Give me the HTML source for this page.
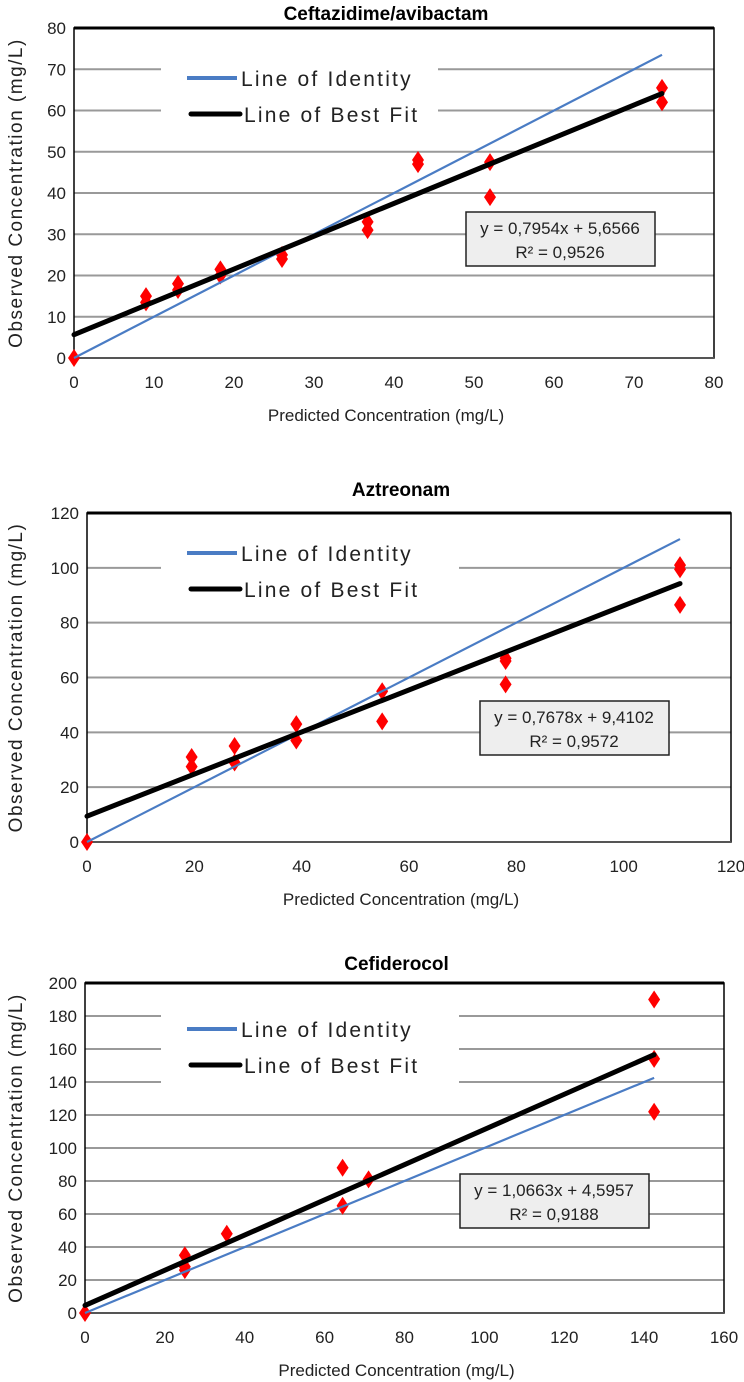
<!DOCTYPE html>
<html><head><meta charset="utf-8"><style>
html,body{margin:0;padding:0;background:#fff;width:744px;height:1382px;overflow:hidden}
svg{display:block}
.tk{font-family:"Liberation Sans",sans-serif;font-size:17px;fill:#222}
.ttl{font-family:"Liberation Sans",sans-serif;font-size:19px;font-weight:bold;fill:#000}
.xt{font-family:"Liberation Sans",sans-serif;font-size:17px;fill:#222}
.yt{font-family:"Liberation Sans",sans-serif;font-size:19px;letter-spacing:1.5px;fill:#222}
.lg{font-family:"Liberation Sans",sans-serif;font-size:21px;letter-spacing:2.2px;fill:#222}
.eq{font-family:"Liberation Sans",sans-serif;font-size:17px;fill:#222}
</style></head><body>
<svg id="root" width="744" height="1382" xmlns="http://www.w3.org/2000/svg"></svg>
<script>
// Chart 1: Ceftazidime/avibactam
const c1PredX = [0,9,9,13,13,18.3,18.3,26,26,36.7,36.7,43,43,52,52,73.5,73.5];
const c1ObsY  = [0,15,13.5,18,16.5,21.5,20,25,24,33,31,48,47,47.5,39,65.5,62];
const c1XTicks = [0,10,20,30,40,50,60,70,80];
const c1YTicks = [0,10,20,30,40,50,60,70,80];
const c1Fit = [0.7954, 5.6566];
const c1MaxX = [73.5];
// Chart 2: Aztreonam
const c2PredX = [0,19.5,19.5,27.5,27.5,39,39,55,55,78,78,78,110.5,110.5,110.5];
const c2ObsY  = [0,31,27.5,35,29,43,37,55,44,67,66,57.5,101,99.5,86.5];
const c2XTicks = [0,20,40,60,80,100,120];
const c2YTicks = [0,20,40,60,80,100,120];
const c2Fit = [0.7678, 9.4102];
const c2MaxX = [110.5];
// Chart 3: Cefiderocol
const c3PredX = [0,25,25,25,35.5,64.5,64.5,71,142.5,142.5,142.5];
const c3ObsY  = [0,35,28,26,48,88,65,81,190,154,122];
const c3XTicks = [0,20,40,60,80,100,120,140,160];
const c3YTicks = [0,20,40,60,80,100,120,140,160,180,200];
const c3Fit = [1.0663, 4.5957];
const c3MaxX = [142.5];

const NS="http://www.w3.org/2000/svg";
const root=document.getElementById('root');
function mk(tag,attrs,parent){const e=document.createElementNS(NS,tag);for(const k in attrs)e.setAttribute(k,attrs[k]);(parent||root).appendChild(e);return e;}

function chart(cfg){
  const g=mk('g',{});
  
  
  const {L,R,T,B}=cfg;
  const xmax=cfg.xt[cfg.xt.length-1], ymax=cfg.yt[cfg.yt.length-1];
  const sx=v=>L+(R-L)*v/xmax, sy=v=>B-(B-T)*v/ymax;
  const t=mk('text',{x:(L+R)/2-8,y:cfg.titleY,'text-anchor':'middle',class:'ttl'},g);t.textContent=cfg.title;
  
  
  cfg.yt.forEach(v=>{
    if(v===0||v===ymax)return;
    const l=mk('line',{x1:L,x2:R,y1:sy(v),y2:sy(v),stroke:'#999','stroke-width':2},g);
    
    
  });
  const lb=mk('rect',{x:cfg.lx,y:cfg.ly,width:cfg.lw,height:cfg.lh,fill:'#fff'},g);
  
  
  cfg.yt.forEach(v=>{
    const e=mk('text',{x:L-8,y:sy(v)+6,'text-anchor':'end',class:'tk'},g);e.textContent=v;
    
    
  });
  cfg.xt.forEach(v=>{
    const e=mk('text',{x:sx(v),y:B+30,'text-anchor':'middle',class:'tk'},g);e.textContent=v;
    
    
  });
  const xt=mk('text',{x:(L+R)/2-8,y:B+63,'text-anchor':'middle',class:'xt'},g);xt.textContent='Predicted Concentration (mg/L)';
  
  
  const yc=(T+B)/2;
  const yt=mk('text',{x:22,y:yc,'text-anchor':'middle',class:'yt',transform:`rotate(-90 22 ${yc})`},g);yt.textContent='Observed Concentration (mg/L)';
  
  
  const pb=mk('rect',{x:L,y:T,width:R-L,height:B-T,fill:'none',stroke:'#000','stroke-width':1.5},g);
  
  
  mk('line',{x1:L,x2:R,y1:T,y2:T,stroke:'#000','stroke-width':3},g);
  mk('line',{x1:L,x2:R,y1:B,y2:B,stroke:'#555','stroke-width':2},g);
  cfg.px.forEach((x,i)=>{
    const cx=sx(x),cy=sy(cfg.py[i]);
    const p=mk('polygon',{points:`${cx},${cy-9} ${cx+6},${cy} ${cx},${cy+9} ${cx-6},${cy}`,fill:'#f00'},g);
    
    
  });
  const mx=cfg.maxx[0];
  const il=mk('line',{x1:sx(0),y1:sy(0),x2:sx(mx),y2:sy(mx),stroke:'#4a7cc4','stroke-width':2.2},g);
  
  
  const fl=mk('line',{x1:sx(0),y1:sy(cfg.fit[1]),x2:sx(mx),y2:sy(cfg.fit[0]*mx+cfg.fit[1]),stroke:'#000','stroke-width':5,'stroke-linecap':'round'},g);
  
  
  const l1=mk('line',{x1:187,x2:237,y1:cfg.e1y,y2:cfg.e1y,stroke:'#4a7cc4','stroke-width':4},g);
  
  
  const lt1=mk('text',{x:241,y:cfg.e1y+8,class:'lg'},g);lt1.textContent='Line of Identity';
  
  
  const l2=mk('line',{x1:191,x2:240,y1:cfg.e2y,y2:cfg.e2y,stroke:'#000','stroke-width':5,'stroke-linecap':'round'},g);
  
  
  const lt2=mk('text',{x:244,y:cfg.e2y+8,class:'lg'},g);lt2.textContent='Line of Best Fit';
  
  
  const eb=mk('rect',{x:cfg.ex,y:cfg.ey,width:189,height:54,fill:'#eeeeee',stroke:'#222','stroke-width':1.5},g);
  
  
  const e1=mk('text',{x:cfg.ex+94,y:cfg.ey+22,'text-anchor':'middle',class:'eq'},g);
  e1.textContent='y = '+cfg.fit[0].toFixed(4).replace('.',',')+'x + '+cfg.fit[1].toFixed(4).replace('.',',');
  
  
  const e2=mk('text',{x:cfg.ex+94,y:cfg.ey+46,'text-anchor':'middle',class:'eq'},g);
  e2.textContent=cfg.r2;
  
  
}

chart({id:'ceftazidime',title:'Ceftazidime/avibactam',titleY:20,L:74,R:714,T:28,B:358,xt:c1XTicks,yt:c1YTicks,px:c1PredX,py:c1ObsY,fit:c1Fit,maxx:c1MaxX,lx:161,ly:60,lw:277,lh:72,e1y:78,e2y:114,ex:466,ey:212,r2:'R² = 0,9526'});
chart({id:'aztreonam',title:'Aztreonam',titleY:496,L:87,R:731,T:513,B:842,xt:c2XTicks,yt:c2YTicks,px:c2PredX,py:c2ObsY,fit:c2Fit,maxx:c2MaxX,lx:161,ly:536,lw:298,lh:70,e1y:553,e2y:589,ex:480,ey:701,r2:'R² = 0,9572'});
chart({id:'cefiderocol',title:'Cefiderocol',titleY:970,L:85,R:724,T:983,B:1313,xt:c3XTicks,yt:c3YTicks,px:c3PredX,py:c3ObsY,fit:c3Fit,maxx:c3MaxX,lx:161,ly:1005,lw:298,lh:84,e1y:1029,e2y:1065,ex:460,ey:1174,r2:'R² = 0,9188'});
</script>
</body></html>
